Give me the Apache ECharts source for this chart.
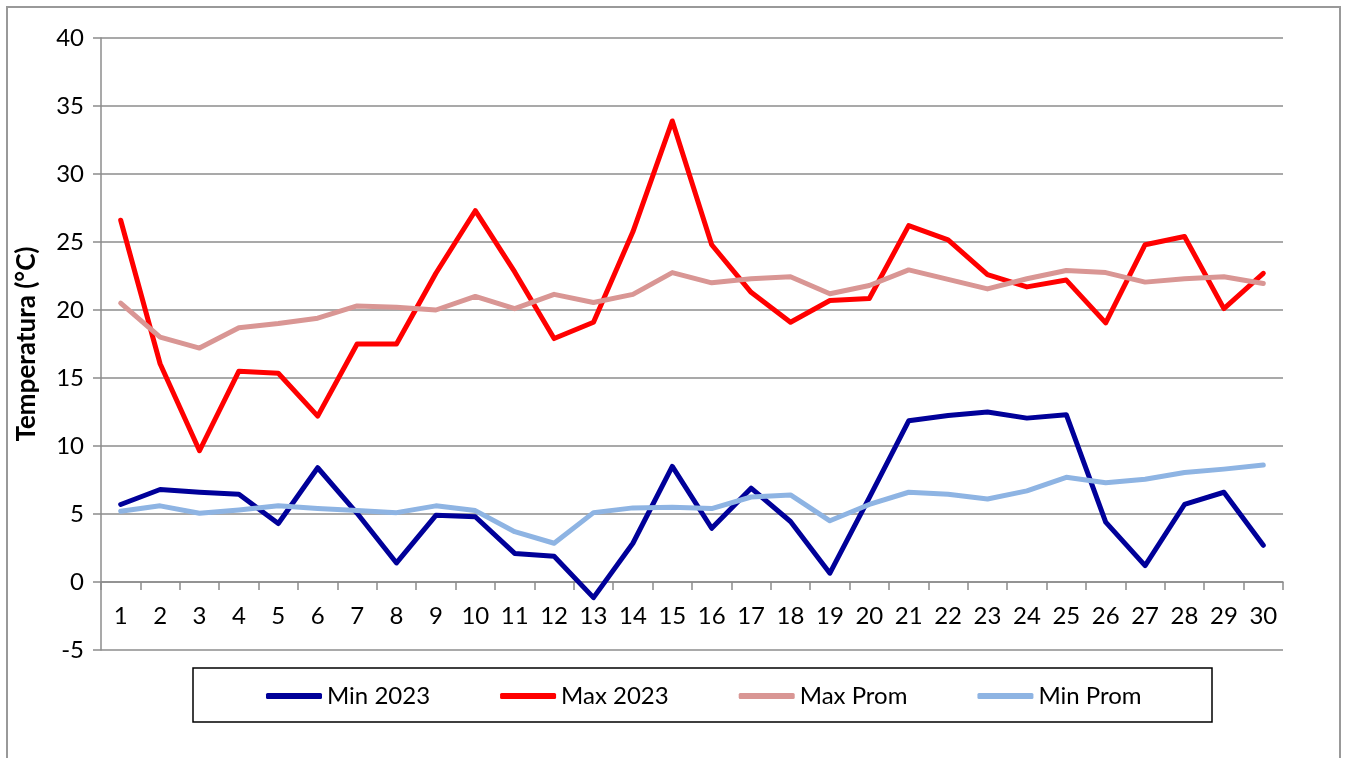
<!DOCTYPE html>
<html><head><meta charset="utf-8">
<script src="https://cdn.jsdelivr.net/npm/echarts@6/dist/echarts.min.js"></script>
<style>html,body{margin:0;padding:0;background:#fff;}#c{width:1349px;height:758px;}</style>
</head><body><div id="c"></div>
<script>
const days = ['1','2','3','4','5','6','7','8','9','10','11','12','13','14','15','16','17','18','19','20','21','22','23','24','25','26','27','28','29','30'];
const min2023 = [5.7, 6.8, 6.6, 6.45, 4.3, 8.4, 5.05, 1.4, 4.9, 4.8, 2.1, 1.9, -1.15, 2.85, 8.5, 3.95, 6.9, 4.45, 0.65, 6.2, 11.85, 12.25, 12.5, 12.05, 12.3, 4.4, 1.2, 5.7, 6.6, 2.7];
const max2023 = [26.6, 16.05, 9.65, 15.5, 15.35, 12.2, 17.5, 17.5, 22.7, 27.3, 22.8, 17.9, 19.1, 25.75, 33.9, 24.8, 21.3, 19.1, 20.7, 20.85, 26.2, 25.15, 22.6, 21.7, 22.2, 19.05, 24.8, 25.4, 20.1, 22.7];
const maxProm = [20.5, 18.0, 17.2, 18.7, 19.0, 19.4, 20.3, 20.2, 20.0, 21.0, 20.1, 21.15, 20.55, 21.15, 22.75, 22.0, 22.3, 22.45, 21.2, 21.8, 22.95, 22.25, 21.55, 22.3, 22.9, 22.75, 22.05, 22.3, 22.45, 21.95];
const minProm = [5.2, 5.6, 5.05, 5.3, 5.6, 5.4, 5.25, 5.1, 5.6, 5.25, 3.7, 2.85, 5.1, 5.45, 5.5, 5.4, 6.25, 6.4, 4.5, 5.7, 6.6, 6.45, 6.1, 6.7, 7.7, 7.3, 7.55, 8.05, 8.3, 8.6];
const seriesNames = ['Min 2023', 'Max 2023', 'Max Prom', 'Min Prom'];
const seriesColors = ['#000099', '#FF0000', '#D99694', '#8EB4E3'];
const yAxisName = 'Temperatura (°C)';
const yMin = -5, yMax = 40, yStep = 5;

const FONT = 'Lato';
const chart = echarts.init(document.getElementById('c'), null, {renderer: 'canvas'});
const dataSets = [min2023, max2023, maxProm, minProm];
const gridTop = 38, gridBottomPx = 650;
// offset the category axis up so it sits on the zero line
const zeroOffset = -(gridBottomPx - gridTop) * (0 - yMin) / (yMax - yMin);
chart.setOption({
  animation: false,
  backgroundColor: '#fff',
  textStyle: {fontFamily: FONT, color: '#000'},
  grid: {left: 101, right: 66, top: gridTop, bottom: 758 - gridBottomPx, containLabel: false},
  legend: {
    left: 266, top: 684, padding: 0, itemGap: 70, itemWidth: 56, itemHeight: 6,
    icon: 'roundRect',
    textStyle: {fontFamily: FONT, fontSize: 24, color: '#000'},
    data: seriesNames
  },
  xAxis: {
    type: 'category', data: days, boundaryGap: true, position: 'bottom', offset: zeroOffset,
    axisLine: {onZero: false, lineStyle: {color: '#8c8c8c', width: 1.5}},
    axisTick: {show: true, length: 8, lineStyle: {color: '#8c8c8c', width: 1.5}},
    axisLabel: {fontFamily: FONT, fontSize: 24, color: '#000', margin: 22, interval: 0}
  },
  yAxis: {
    type: 'value', min: yMin, max: yMax, interval: yStep,
    name: yAxisName, nameLocation: 'middle', nameGap: 61, nameRotate: 90,
    nameTextStyle: {fontFamily: FONT, fontSize: 26, fontWeight: 'bold', color: '#000'},
    axisLine: {show: true, lineStyle: {color: '#8c8c8c', width: 1.5}},
    axisTick: {show: true, length: 8, lineStyle: {color: '#8c8c8c', width: 1.5}},
    axisLabel: {fontFamily: FONT, fontSize: 24, color: '#000', margin: 17},
    splitLine: {show: true, lineStyle: {color: '#8c8c8c', width: 1.5}}
  },
  graphic: [
    {type: 'rect', shape: {x: 7, y: 7, width: 1333, height: 760}, style: {fill: 'none', stroke: '#999', lineWidth: 2}, silent: true, z: -1},
    {type: 'rect', shape: {x: 193, y: 668, width: 1019, height: 54}, style: {fill: 'none', stroke: '#000', lineWidth: 1.5}, silent: true}
  ],
  series: seriesNames.map((n, i) => ({
    name: n, type: 'line', data: dataSets[i], showSymbol: false, symbol: 'none', smooth: false,
    itemStyle: {color: seriesColors[i]},
    lineStyle: {color: seriesColors[i], width: 5, cap: 'round', join: 'round'}
  }))
});
</script></body></html>
